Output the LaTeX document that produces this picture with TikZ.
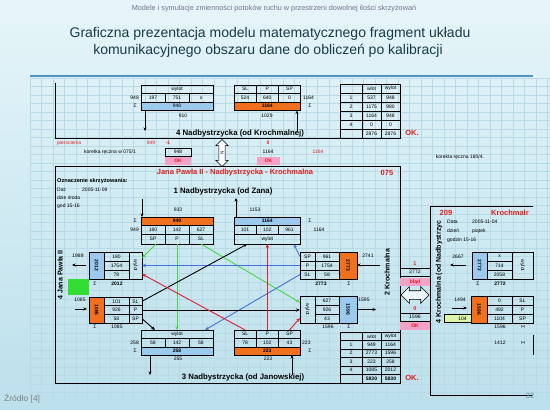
\documentclass[tikz,border=0pt]{standalone}
\usepackage{fontspec}
\setmainfont{Liberation Sans}
\usepackage{graphicx}
\usetikzlibrary{arrows.meta,shapes.arrows}
\definecolor{bgtop}{HTML}{E6F5F9}
\definecolor{bgbot}{HTML}{BCE0EC}
\definecolor{gridc}{HTML}{B8DAE6}
\definecolor{titlec}{HTML}{163C48}
\definecolor{linec}{HTML}{4F93C4}
\definecolor{lblue}{HTML}{9CC9EE}
\definecolor{orangec}{HTML}{F0701E}
\definecolor{pinkc}{HTML}{F4A2C6}
\definecolor{redc}{HTML}{E0201E}
\definecolor{greenbox}{HTML}{33DD33}
\definecolor{palegreen}{HTML}{DDF5A8}
\definecolor{cgreen}{HTML}{44D844}
\definecolor{cblue}{HTML}{4472D8}
\definecolor{cred}{HTML}{E02030}
\definecolor{arrowfill}{HTML}{EEF8FB}
\newcommand{\fsz}[1]{\fontsize{#1}{#1}\selectfont}
\newcommand{\cb}[7][]{\node[cell,minimum width=#5pt,minimum height=#6pt,anchor=north west,#1] (#2) at (#3,#4) {#7};}
\begin{document}
\begin{tikzpicture}[x=1pt,y=-1pt,
  cell/.style={draw=black,line width=0.6pt,inner sep=0pt,outer sep=0pt,font=\fsz{5}},
  txt/.style={inner sep=0pt,font=\fsz{5}},
  bigl/.style={inner sep=0pt,font=\bfseries\fsz{7.8}},
  redb/.style={inner sep=0pt,text=redc,font=\bfseries\fsz{7.5}},
  okbox/.style={cell,draw=none,fill=pinkc,text=redc,font=\bfseries\fsz{5}},
  panel/.style={line width=1pt,black},
  arr/.style={line width=0.8pt,-{Stealth[length=3.5pt,width=3pt]}},
  conn/.style={line width=0.9pt,-{Stealth[length=4pt,width=3.4pt]}}]
\useasboundingbox (0,0) rectangle (550,410);
\shade[top color=bgtop,bottom color=bgbot] (0,0) rectangle (550,410);
\foreach \gy in {78,86.5,...,400} \draw[gridc,line width=0.3pt] (30,\gy) -- (550,\gy);
\foreach \gx in {30,41.5,...,550} \draw[gridc,line width=0.3pt] (\gx,78) -- (\gx,400);

% header and title
\node[inner sep=0pt,font=\fsz{7.3},text=gray!90!blue] (hdr) at (274,9) {Modele i symulacje zmienności potoków ruchu w przestrzeni dowolnej ilości skrzyżowań};
\node[inner sep=0pt,font=\fsz{14},text=titlec] (t1) at (270,34) {Graficzna prezentacja modelu matematycznego fragment układu};
\node[inner sep=0pt,font=\fsz{14},text=titlec] (t2) at (268,51) {komunikacyjnego obszaru dane do obliczeń po kalibracji};
\draw[linec,line width=2pt] (30,76) -- (533,76);

% ---------- top panel ----------
\draw[panel] (55,83) -- (55,138) -- (340,138);
\cb{ta}{141}{85}{72}{8.5}{wylot}
\cb{tb1}{141}{93.5}{24}{8.5}{197}
\cb{tb2}{165}{93.5}{24}{8.5}{751}
\cb{tb3}{189}{93.5}{24}{8.5}{x}
\cb[fill=lblue]{tc}{141}{102}{72}{8.5}{948}
\node[txt,anchor=east] (tl1) at (139,97.7) {948};
\node[txt,anchor=east] (tl2) at (137,106.2) {Σ};
\node[txt] (tl3) at (183,116) {910};
\coordinate (taend) at (145,131);
\draw[arr] (tc.south -| taend) -- (taend);

\cb{tm1}{234}{85}{22.2}{8.5}{SL}
\cb{tm2}{256.2}{85}{22.2}{8.5}{P}
\cb{tm3}{278.4}{85}{22.2}{8.5}{SP}
\cb{tn1}{234}{93.5}{22.2}{8.5}{524}
\cb{tn2}{256.2}{93.5}{22.2}{8.5}{640}
\cb{tn3}{278.4}{93.5}{22.2}{8.5}{0}
\cb[fill=orangec,font=\bfseries\fsz{5}]{tms}{234}{102}{66.6}{8.5}{1164}
\node[txt,anchor=west] (tl4) at (303,97.7) {1164};
\node[txt] (tl5) at (310,106.2) {Σ};
\node[txt] (tl6) at (267,116) {1029};
\coordinate (tmstart) at (297,131);
\draw[arr] (tmstart) -- (tmstart |- tms.south);
\node[bigl] (t4lbl) at (240,133) {4 Nadbystrzycka (od Krochmalnej)};

% top right table
\cb{trh0}{340}{84}{22}{9}{}
\cb{trh1}{362}{84}{19}{9}{wlot}
\cb{trh2}{381}{84}{19}{9}{wylot}
\foreach \i/\yy/\a/\b/\c in {1/93/1/537/948,2/102/2/1175/980,3/111/3/1164/948,4/120/4/0/0,5/129//2876/2876}{
  \cb{tri\i}{340}{\yy}{22}{9}{\a}
  \cb{trw\i}{362}{\yy}{19}{9}{\b}
  \cb{try\i}{381}{\yy}{19}{9}{\c}
}
\node[redb] (tok) at (412,133) {OK.};

% correction row
\node[txt,anchor=west,text=redc] (pier) at (57,143) {pierscienia};
\node[txt,text=redc] (c949) at (151,143) {949};
\node[txt,text=redc,font=\bfseries\fsz{5}] (cm1) at (168,143) {-1};
\node[txt,text=redc,font=\bfseries\fsz{5}] (c0) at (268,143) {0};
\node[txt] (kor) at (110,152) {koretka ręczna w 075/1};
\cb{c948}{165}{148}{26}{8}{948}
\node[txt] (c1164) at (268,152) {1164};
\node[txt,text=redc] (c1164r) at (318,152) {1164};
\cb[okbox]{ok1}{165}{157}{26}{8}{OK}
\cb[okbox]{ok2}{257}{157}{23}{8}{OK}
\node[double arrow,draw=black,fill=white,line width=0.6pt,rotate=90,minimum height=27pt,double arrow head extend=3pt,inner sep=1.3pt,font=\fsz{4.5}] (na) at (222,153) {N};
\node[txt] (kor2) at (460,157) {korekta ręczna 180/4.};

% ---------- main panel ----------
\draw[panel] (55,166) -- (400,166) -- (400,383) -- (55,383) -- cycle;
\node[redb] (mttl) at (235,172.5) {Jana Pawła II - Nadbystrzycka - Krochmalna};
\node[redb] (m075) at (387,172.5) {075};
\node[txt,anchor=west,font=\bfseries\fsz{5.6}] (ozn) at (57,181) {Oznaczenie skrzyżowania:};
\node[txt,anchor=west] (dat) at (57,189.5) {Dat:};
\node[txt,anchor=west] (datv) at (82,189.5) {2005-11-09};
\node[txt,anchor=west] (dzie) at (57,198) {dzie środa};
\node[txt,anchor=west] (god) at (57,206) {god 15-16};
\node[bigl] (a1lbl) at (223,191) {1 Nadbystrzycka (od Zana)};

% arm 1
\coordinate (a1in) at (142,199);
\node[txt] (a1933) at (178,210) {933};
\cb[fill=orangec,font=\bfseries\fsz{5}]{a1sum}{141}{217}{72}{8.5}{949}
\draw[arr] (a1in) -- (a1in |- a1sum.north);
\node[txt,anchor=east] (a1s) at (137,221) {Σ};
\node[txt,anchor=east] (a1l) at (139,230) {949};
\cb{a1v1}{141}{225.5}{24}{9}{180}
\cb{a1v2}{165}{225.5}{24}{9}{142}
\cb{a1v3}{189}{225.5}{24}{9}{627}
\cb{a1sp}{141}{234.5}{24}{9.5}{SP}
\cb{a1p}{165}{234.5}{24}{9.5}{P}
\cb{a1sl}{189}{234.5}{24}{9.5}{SL}

\coordinate (a1o) at (236,198);
\node[txt] (a11153) at (255,210) {1153};
\cb[fill=lblue,font=\bfseries\fsz{5}]{a1out}{234}{217}{66.6}{8.5}{1164}
\draw[arr] (a1out.north -| a1o) -- (a1o);
\cb{a1w1}{234}{225.5}{22.2}{9}{101}
\cb{a1w2}{256.2}{225.5}{22.2}{9}{102}
\cb{a1w3}{278.4}{225.5}{22.2}{9}{961}
\cb{a1wy}{234}{234.5}{66.6}{9.5}{wylot}
\node[txt] (a1s2) at (310,221) {Σ};
\node[txt] (a1r) at (319,230) {1164};

% arm 4 (left)
\node[txt] (l1989) at (78,256) {1989};
\coordinate (l1a) at (86,265);
\coordinate (l1b) at (72,265);
\draw[arr] (l1a) -- (l1b);
\cb[fill=lblue,font=\bfseries\fsz{5}]{l4sum}{89}{252}{15}{27}{\rotatebox{-90}{2012}}
\cb{l4v1}{104}{252}{25}{9}{180}
\cb{l4v2}{104}{261}{25}{9}{1754}
\cb{l4v3}{104}{270}{25}{9}{78}
\cb{l4wy}{129}{252}{13}{27}{\rotatebox{-90}{wylot}}
\node[txt] (l4s) at (95,284) {Σ};
\node[txt,font=\bfseries\fsz{5}] (l4t) at (117,284) {2012};
\node[fill=greenbox,minimum width=21pt,minimum height=16pt,inner sep=0pt,anchor=north west] (gbox) at (68,279) {};
\node[txt] (l1085) at (80,300) {1085};
\coordinate (l2a) at (75,309);
\coordinate (l2b) at (87,309);
\draw[arr] (l2a) -- (l2b);
\cb[fill=orangec,font=\bfseries\fsz{5}]{l4in}{89}{297}{15}{26}{\rotatebox{-90}{1085}}
\cb{l4u1}{104}{297}{25}{8.67}{101}
\cb{l4u2}{104}{305.67}{25}{8.67}{926}
\cb{l4u3}{104}{314.33}{25}{8.67}{58}
\cb{l4sl}{129}{297}{13}{8.67}{SL}
\cb{l4p}{129}{305.67}{13}{8.67}{P}
\cb{l4spc}{129}{314.33}{13}{8.67}{SP}
\node[txt] (l4s2) at (95,327) {Σ};
\node[txt] (l4t2) at (117,327) {1085};
\node[bigl,font=\bfseries\fsz{7}] (l4lbl) at (60,275) {\rotatebox{90}{4 Jana Pawła II}};

% arm 2 (right)
\cb{r2sp}{300}{252}{15}{9}{SP}
\cb{r2p}{300}{261}{15}{9}{P}
\cb{r2sl}{300}{270}{15}{9}{SL}
\cb{r2v1}{315}{252}{24}{9}{961}
\cb{r2v2}{315}{261}{24}{9}{1754}
\cb{r2v3}{315}{270}{24}{9}{58}
\cb[fill=orangec,font=\bfseries\fsz{5}]{r2sum}{339}{252}{18}{27}{\rotatebox{-90}{2773}}
\node[txt] (r2741) at (368,256) {2741};
\coordinate (r2a) at (380,265);
\draw[arr] (r2a) -- (r2sum.east |- r2a);
\node[txt,font=\bfseries\fsz{5}] (r2t) at (321,284) {2773};
\node[txt] (r2s) at (349,284) {Σ};
\cb{r2wy}{300}{296}{15}{27}{\rotatebox{-90}{wylot}}
\cb{r2u1}{315}{296}{24}{9}{627}
\cb{r2u2}{315}{305}{24}{9}{926}
\cb{r2u3}{315}{314}{24}{9}{43}
\cb[fill=lblue,font=\bfseries\fsz{5}]{r2out}{339}{296}{18}{27}{\rotatebox{-90}{1596}}
\node[txt] (r1595) at (364,300) {1595};
\coordinate (r2b) at (376,309.5);
\draw[arr] (r2out.east |- r2b) -- (r2b);
\node[txt] (r2t2) at (328,327) {1596};
\node[txt] (r2s2) at (349,327) {Σ};
\node[bigl,font=\bfseries\fsz{7}] (r2lbl) at (387,272) {\rotatebox{90}{2 Krochmalna}};

% arm 3 (bottom)
\cb{b3wy}{141}{330}{72}{8.5}{wylot}
\cb{b3v1}{141}{338.5}{24}{8.5}{58}
\cb{b3v2}{165}{338.5}{24}{8.5}{142}
\cb{b3v3}{189}{338.5}{24}{8.5}{58}
\cb[fill=lblue,font=\bfseries\fsz{5}]{b3out}{141}{347}{72}{8}{258}
\node[txt,anchor=east] (b3l) at (139,342.7) {258};
\node[txt,anchor=east] (b3s) at (137,351) {Σ};
\node[txt] (b3255) at (178,359) {255};
\coordinate (b3end) at (150,375);
\draw[arr] (b3out.south -| b3end) -- (b3end);

\cb{b3sl}{234}{330}{22.2}{8.5}{SL}
\cb{b3p}{256.2}{330}{22.2}{8.5}{P}
\cb{b3sp}{278.4}{330}{22.2}{8.5}{SP}
\cb{b3u1}{234}{338.5}{22.2}{8.5}{78}
\cb{b3u2}{256.2}{338.5}{22.2}{8.5}{102}
\cb{b3u3}{278.4}{338.5}{22.2}{8.5}{43}
\cb[fill=orangec,font=\bfseries\fsz{5}]{b3in}{234}{347}{66.6}{8}{223}
\node[txt,anchor=west] (b3r) at (302,342.7) {223};
\node[txt] (b3s2) at (310,351) {Σ};
\node[txt] (b3223) at (268,359) {223};
\coordinate (b3start) at (292,375);
\draw[arr] (b3start) -- (b3start |- b3in.south);
\node[bigl] (b3lbl) at (243,377) {3 Nadbystrzycka (od Janowskiej)};

% bottom right table
\cb{brh0}{340}{332}{22}{8.5}{}
\cb{brh1}{362}{332}{19}{8.5}{wlot}
\cb{brh2}{381}{332}{19}{8.5}{wylot}
\foreach \i/\yy/\a/\b/\c in {1/340.5/1/949/1164,2/349/2/2773/1596,3/357.5/3/223/258,4/366/4/1085/2012}{
  \cb{bri\i}{340}{\yy}{22}{8.5}{\a}
  \cb{brw\i}{362}{\yy}{19}{8.5}{\b}
  \cb{bry\i}{381}{\yy}{19}{8.5}{\c}
}
\cb{bri5}{340}{374.5}{22}{8.5}{}
\cb[font=\bfseries\fsz{5}]{brw5}{362}{374.5}{19}{8.5}{5830}
\cb[font=\bfseries\fsz{5}]{bry5}{381}{374.5}{19}{8.5}{5830}
\node[redb] (bok) at (412,378) {OK.};

% connectors
\draw[conn,cgreen] ([xshift=3pt]a1sp.south) -- ([yshift=-6pt]l4wy.north east);
\draw[conn,cgreen] (a1p.south) -- (b3wy.north);
\draw[conn,cgreen] (a1sl.south) -- ([yshift=7pt]r2wy.west);
\draw[conn,cblue] (r2p.west) -- (l4wy.east);
\draw[conn,cblue] (r2sp.west) -- ([xshift=-7pt]a1wy.south east);
\draw[conn,cblue] (r2sl.west) -- ([xshift=-8pt]b3wy.north east);
\draw[conn,black] (l4sl.east) -- ([xshift=-20pt]a1wy.south);
\draw[conn,black] (l4p.east) -- (r2wy.west |- l4p.east);
\draw[conn,black] (l4spc.east) -- ([xshift=14pt]b3wy.north west);
\draw[conn,cred] (b3sl.north) -- ([yshift=5pt]l4wy.south east);
\draw[conn,cred] (b3p.north) -- (b3p.north |- a1wy.south);
\draw[conn,cred] (b3sp.north) -- ([yshift=5pt]r2wy.south west);

% strip between panels
\node[txt,text=redc,font=\bfseries\fsz{5.5}] (s1) at (415,264) {1};
\cb{s2772}{400}{268}{30}{8}{2772}
\cb[okbox]{sblad}{400}{278}{30}{8}{błąd}
\node[double arrow,draw=black,fill=arrowfill,line width=0.6pt,minimum height=28pt,double arrow head extend=4pt,inner sep=4pt] (ha) at (415,295) {};
\node[txt,text=redc,font=\bfseries\fsz{5.5}] (s0) at (415,309) {0};
\cb{s1596}{400}{313}{30}{8}{1596}
\cb[okbox]{sok}{400}{322}{30}{8}{OK}

% ---------- right panel ----------
\draw[panel] (533,206) -- (430,206) -- (430,395) -- (533,395);
\draw[panel] (533,335) -- (533,355);
\node[redb] (p209) at (446,213) {209};
\node[redb,anchor=west] (pkr) at (491,213) {Krochmalr};
\node[txt,anchor=west] (pdata) at (447,222) {Data};
\node[txt,anchor=west] (pdatav) at (472,222) {2005-11-04};
\node[txt,anchor=west] (pdz) at (447,231) {dzień};
\node[txt,anchor=west] (pdzv) at (472,231) {piątek};
\node[txt,anchor=west] (pgod) at (447,240) {godzin 15-16};
\node[bigl,font=\bfseries\fsz{7}] (plbl) at (439,272) {\rotatebox{90}{4 Krochmalna (od Nadbystrzyc}};
\node[txt] (p2667) at (458,257) {2667};
\coordinate (pa1) at (466,265);
\coordinate (pa2) at (450,265);
\draw[arr] (pa1) -- (pa2);
\cb[fill=lblue,font=\bfseries\fsz{5}]{psum}{472}{252}{15}{27}{\rotatebox{-90}{2772}}
\cb{pv1}{487}{252}{25}{9}{x}
\cb{pv2}{487}{261}{25}{9}{714}
\cb{pv3}{487}{270}{25}{9}{2058}
\cb{pwy}{512}{252}{21}{27}{\rotatebox{-90}{wylot}}
\node[txt] (ps) at (478,284) {Σ};
\node[txt,font=\bfseries\fsz{5}] (pt) at (500,284) {2772};
\node[txt] (p1494) at (460,300) {1494};
\coordinate (pb1) at (452,308);
\coordinate (pb2) at (467,308);
\draw[arr] (pb1) -- (pb2);
\cb[fill=orangec,font=\bfseries\fsz{5}]{pin}{471}{296}{16}{27}{\rotatebox{-90}{1596}}
\cb{pu1}{487}{296}{25}{9}{0}
\cb{pu2}{487}{305}{25}{9}{492}
\cb{pu3}{487}{314}{25}{9}{1104}
\cb{psl}{512}{296}{21}{9}{SL}
\cb{pp}{512}{305}{21}{9}{P}
\cb{psp}{512}{314}{21}{9}{SP}
\cb[fill=palegreen,line width=0.4pt]{p104}{444}{314.5}{27}{8}{\hspace*{10pt}104}
\node[txt] (pt2) at (500,327) {1596};
\node[txt] (ps2) at (523,327) {\rotatebox{-90}{Σ}};
\node[txt] (p1412) at (500,343) {1412};
\node[txt] (ps3) at (523,343) {\rotatebox{-90}{Σ}};

% footer
\node[inner sep=0pt,anchor=west,font=\fsz{8.5},text=gray] (src) at (4,399) {Źródło [4]};
\node[inner sep=0pt,font=\fsz{7.5},text=linec!70!gray] (pg) at (530,396) {32};
\end{tikzpicture}
\end{document}
